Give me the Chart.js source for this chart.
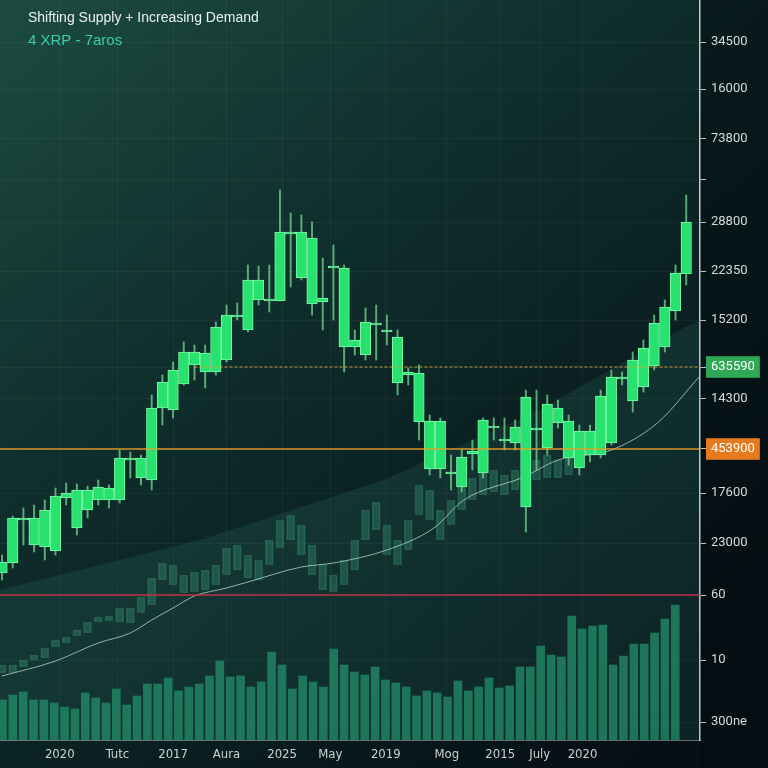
<!DOCTYPE html>
<html lang="en">
<head>
  <meta charset="UTF-8">
  <title>Shifting Supply + Increasing Demand</title>
  <script src="https://cdn.jsdelivr.net/npm/chart.js"></script>
  <style>
    html, body { margin: 0; padding: 0; background: #07151a; }
    canvas { display: block; }
  </style>
</head>
<body>
  <canvas id="chart" width="768" height="768"></canvas>
  <script>
    // main candles, one per slot (slot 0 .. 64)
    const candleOpen  = [33.4,35.4,44,39,38.6,37.8,48.4,42.4,46,48,48,48,56,52.4,52,66.4,66,71.2,75,73.6,73.6,76,84.6,82,88,87.8,87.8,101.2,92.4,87.2,87.6,94.4,78.6,78.6,77,83,81.6,71.4,73,63.6,54.2,54.2,53.2,50.6,57.2,53.4,62.4,59.8,59.4,46.6,62,58.4,63.4,56.4,54.4,57,57,59.4,72.2,67.8,70.6,74.8,78.6,85.8,93.2];
    const candleHigh  = [37,44.8,46.4,47,48,50.4,51.4,51.2,50.8,52,51,58,57.6,57,69,73,75.6,79.6,79,79,83.6,87,87.4,95,94.8,95,110,105.4,105,103.6,96.4,99,95,82,86.4,87,85,82,74.4,75,65,64.4,57,58,60,64.4,64.4,64.4,64,70,70,69,68,65,63,63,70,74,73.6,77.6,80,85,88,95,109];
    const candleLow   = [32,34.4,39,37.6,36,37,47,41,44.4,47,46.4,47.4,52.4,51,50,63,64.4,71,72,70.4,73,75.6,84,81.6,87,85.6,87.8,90.6,92,85,82,84,73.6,77,76,76,79,69,71,60,53,52.4,50,49.6,54,52.4,60,58,58,41.6,54,57,62.4,55,53,55.6,56.4,59,71,65.6,69.6,74,77.6,84,91];
    const candleClose = [35.6,44.4,44.4,44.4,46,48.8,49.4,50,50,50.6,50.4,56.4,56.4,56.4,66.4,71.6,74,77.6,77.6,77.4,82.6,85,85,92,92,88.2,101.6,101.6,101.6,100.4,88.4,94.8,94.4,80,83.6,83.4,82,80.6,73.6,73.4,63.8,63.8,53.6,56.6,57.8,64,62.8,60.2,62.6,68.6,62.4,67.2,66.4,63.8,61.8,61.8,68.8,72.6,72.6,76,78.4,83.4,86.6,93.4,103.6];

    // faded background candles (slot 0 .. 53)
    const shadowLow  = [13.4,13.4,14.6,16,16.4,18.6,19.4,20.8,21.4,23.6,23.8,23.6,23.4,25.4,27,32,31,29.4,29.6,30,31,33,34,32.4,32,35,38.4,40,37,33,30,29.6,31,34,40,42,37,35,38,45,44,40,43,46,48,49,49.6,49,50,51,52,52.4,52.4,53];
    const shadowHigh = [15,15,16,17,18.4,20,20.6,22,23.6,24.6,24.8,26.4,26.4,28.6,32.4,35.4,35,33,33.6,34,35,38.4,39,37,36,40,44,45,43,39,35,33,36,40,46,47.6,43,40,44,51,50,46,48,51,52.4,53.6,54,53,54,55,56,57,56,56.4];

    // volume bars (66 bars)
    const volume = [20,22.5,24,20,20,18.5,16.5,15.5,23.5,21,18.5,25.5,17.5,22,28,28,31,24.5,26.5,28,32,39.5,31.5,32,26.5,29,44,37.5,25.5,32,29,26.5,45.5,37.5,
                    34,32.5,36.5,30,28.5,26.5,22,24.5,23.5,21.5,29.5,24.5,26.5,31,26,27,36.5,36.5,47,42.5,41.5,62,55.5,57,57.5,37.5,42,48,48,53.5,60.5,67.5];

    // moving average and shaded zone edge
    const maSlot  = [0,5,9,12,14,16,18,21,23,28,31,36,40.4,43.2,48.8,52,57,61.3,65.2];
    const maValue = [12.8,15.8,19.4,21.4,24,26.4,28.8,30.4,31.6,34.6,35.4,38,42.4,48,52.6,56,58,63.4,72.6];
    const zoneSlot  = [-0.2,18.5,35.7,50.3,63.4,65.3];
    const zoneValue = [30,40,52,66,82,84];

    // horizontal levels
    const resistLevel = 74.6;
    const supportLevel = 58.2;
    const floorLevel = 29;

    // axis ticks
    const yTickValues = [139.6,130.2,120.2,112,103.6,93.8,84,74.6,68.2,58.2,49.4,39.4,29,16,3.6];
    const yTickLabels = ['34500','16000','73800','','28800','22350','15200','635590','14300','453900','17600','23000','60','10','300ne'];
    const xTickSlots  = [5.4,10.8,16,21,26.2,30.7,35.9,41.6,46.6,50.3,54.3];
    const xTickLabels = ['2020','Tutc','2017','Aura','2025','May','2019','Mog','2015','July','2020'];

    const bodies = candleOpen.map((o, i) => ({ x: i, y: [o, candleClose[i]] }));
    const wicks = candleLow.map((l, i) => ({ x: i, y: [l, candleHigh[i]] }));
    const shadows = shadowLow.map((l, i) => ({ x: i, y: [l, shadowHigh[i]] }));
    const volBars = volume.map((v, i) => ({ x: i, y: v }));
    const maLine = maSlot.map((s, i) => ({ x: s, y: maValue[i] }));
    const zoneLine = zoneSlot.map((s, i) => ({ x: s, y: zoneValue[i] }));

    const bgPlugin = {
      id: 'bg',
      beforeDraw(chart) {
        const c = chart.ctx;
        const g = c.createLinearGradient(0, 0, 620, 768);
        g.addColorStop(0, '#1d4b41');
        g.addColorStop(0.4, '#0f2e2c');
        g.addColorStop(1, '#050f15');
        c.save();
        c.fillStyle = g;
        c.fillRect(0, 0, chart.width, chart.height);
        c.fillStyle = 'rgba(3,12,16,0.55)';
        c.fillRect(chart.chartArea.right, 0, chart.width - chart.chartArea.right, chart.height);
        c.restore();
      },
      afterDraw(chart) {
        const c = chart.ctx;
        c.save();
        c.font = '14px "Liberation Sans", Arial, sans-serif';
        c.fillStyle = '#eaf1ef';
        c.fillText('Shifting Supply + Increasing Demand', 28, 22);
        c.font = '15px "Liberation Sans", Arial, sans-serif';
        c.fillStyle = '#3ccdaa';
        c.fillText('4 XRP - 7aros', 28, 45);
        c.restore();
      }
    };

    const badgeColor = (ctx) => {
      if (ctx.index === 7) return '#2ea855';
      if (ctx.index === 9) return '#e67a1e';
      return 'rgba(0,0,0,0)';
    };

    new Chart(document.getElementById('chart'), {
      type: 'bar',
      data: {
        datasets: [
          { type: 'line', data: zoneLine, borderWidth: 0, pointRadius: 0, fill: 'start',
            backgroundColor: 'rgba(70,170,150,0.13)', order: 10 },
          { data: volBars, xAxisID: 'xv', yAxisID: 'yv', backgroundColor: 'rgba(34,138,102,0.8)',
            barThickness: 8, grouped: false, order: 9 },
          { data: shadows, backgroundColor: 'rgba(60,160,120,0.32)', borderColor: 'rgba(90,190,150,0.25)',
            borderWidth: 1, borderSkipped: false, barThickness: 8, grouped: false, order: 8 },
          { type: 'line', data: maLine, borderColor: 'rgba(190,220,210,0.75)', borderWidth: 1,
            pointRadius: 0, cubicInterpolationMode: 'monotone', order: 7 },
          { type: 'line', data: [{ x: -1, y: floorLevel }, { x: 66, y: floorLevel }],
            borderColor: '#c0304a', borderWidth: 1.5, pointRadius: 0, order: 6 },
          { data: wicks, backgroundColor: 'rgba(120,230,150,0.7)', barThickness: 1.3, grouped: false, order: 4 },
          { data: bodies, backgroundColor: '#27e26f', borderColor: '#7dfaa6', borderWidth: 1,
            borderSkipped: false, barThickness: 10.5, grouped: false, order: 3 },
          { type: 'line', data: [{ x: 18, y: resistLevel }, { x: 66, y: resistLevel }],
            borderColor: 'rgba(214,168,48,0.9)', borderWidth: 1.2, borderDash: [3, 2], pointRadius: 0, order: 1 },
          { type: 'line', data: [{ x: -1, y: supportLevel }, { x: 66, y: supportLevel }],
            borderColor: 'rgba(232,160,40,0.9)', borderWidth: 1.5, pointRadius: 0, order: 1 }
        ]
      },
      options: {
        responsive: false,
        devicePixelRatio: 1,
        animation: false,
        layout: { padding: 0 },
        plugins: { legend: { display: false }, tooltip: { enabled: false } },
        scales: {
          x: {
            type: 'linear', position: 'bottom', min: -0.19, max: 65.29, offset: false,
            afterBuildTicks: (s) => { s.ticks = xTickSlots.map(v => ({ value: v })); },
            afterFit: (s) => { s.height = 28; s.paddingLeft = 0; s.paddingRight = 0; },
            ticks: {
              callback: (v, i) => xTickLabels[i],
              color: '#c9d2d1', padding: 7, maxRotation: 0, autoSkip: false,
              font: { family: '"Liberation Sans Narrow", "DejaVu Sans Condensed", Roboto, sans-serif', size: 13 }
            },
            grid: { color: 'rgba(255,255,255,0.04)', drawTicks: false, offset: false },
            border: { color: 'rgba(190,205,200,0.5)', width: 1 }
          },
          xv: { type: 'linear', display: false, min: -0.24, max: 67.39, offset: false },
          y: {
            type: 'linear', position: 'right', min: 0, max: 148,
            afterBuildTicks: (s) => { s.ticks = yTickValues.map(v => ({ value: v })); },
            afterFit: (s) => { s.width = 68; s.paddingTop = 0; s.paddingBottom = 0; },
            ticks: {
              callback: (v, i) => yTickLabels[i],
              color: (ctx) => (ctx.index === 7 || ctx.index === 9) ? '#ffffff' : '#d3dbda',
              padding: 5, autoSkip: false,
              showLabelBackdrop: true,
              backdropColor: badgeColor,
              backdropPadding: { x: 5, y: 3 },
              font: { family: 'Roboto, "Liberation Sans", sans-serif', size: 13 }
            },
            grid: { color: 'rgba(255,255,255,0.045)', tickLength: 6, tickColor: '#b8c4c3' },
            border: { color: '#c3cecd', width: 1.5 }
          },
          yv: { type: 'linear', display: false, min: 0, max: 370 }
        }
      },
      plugins: [bgPlugin]
    });
  </script>
</body>
</html>
